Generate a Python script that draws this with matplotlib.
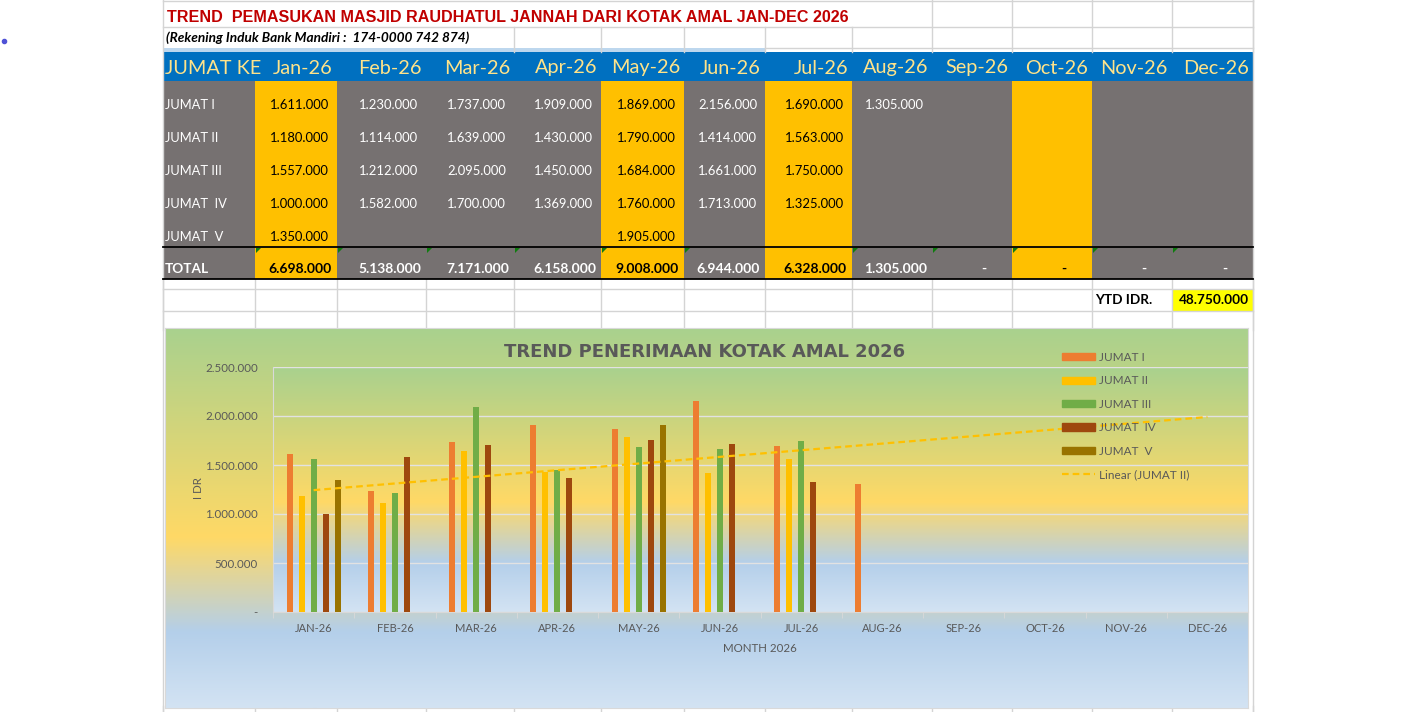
import numpy as np
import matplotlib
matplotlib.use("Agg")
import matplotlib.pyplot as plt
from matplotlib.patches import Rectangle, Polygon, Patch
from matplotlib.lines import Line2D
from matplotlib.colors import LinearSegmentedColormap

nan = np.nan

# ---- data -------------------------------------------------------------
months = ["Jan-26", "Feb-26", "Mar-26", "Apr-26", "May-26", "Jun-26",
          "Jul-26", "Aug-26", "Sep-26", "Oct-26", "Nov-26", "Dec-26"]
axis_months = ["JAN-26", "FEB-26", "MAR-26", "APR-26", "MAY-26", "JUN-26",
               "JUL-26", "AUG-26", "SEP-26", "OCT-26", "NOV-26", "DEC-26"]
row_labels = ["JUMAT I", "JUMAT II", "JUMAT III", "JUMAT  IV", "JUMAT  V"]

jumat_1 = [1611000, 1230000, 1737000, 1909000, 1869000, 2156000, 1690000, 1305000, nan, nan, nan, nan]
jumat_2 = [1180000, 1114000, 1639000, 1430000, 1790000, 1414000, 1563000, nan, nan, nan, nan, nan]
jumat_3 = [1557000, 1212000, 2095000, 1450000, 1684000, 1661000, 1750000, nan, nan, nan, nan, nan]
jumat_4 = [1000000, 1582000, 1700000, 1369000, 1760000, 1713000, 1325000, nan, nan, nan, nan, nan]
jumat_5 = [1350000, nan, nan, nan, 1905000, nan, nan, nan, nan, nan, nan, nan]

series = [jumat_1, jumat_2, jumat_3, jumat_4, jumat_5]
series_colors = ["#ED7D31", "#FFC000", "#70AD47", "#9E480E", "#997300"]
highlight_months = [0, 4, 6, 9]

# ---- layout helpers ---------------------------------------------------
W, H = 1416, 712
col_edges = [163, 255, 337, 426, 514, 601, 684, 765, 852, 932, 1012, 1092, 1172, 1253]
row_centers = [105, 138, 171, 204, 237]
FONT = "Lato"
GRID = "#D4D4D4"
GREY_CELL = "#767171"
YELLOW_CELL = "#FFC000"


def fmt(v):
    return f"{v:,.0f}".replace(",", ".")


def fx(px):
    return px / W


def fy(py):
    return 1 - py / H


fig = plt.figure(figsize=(W / 100, H / 100), dpi=100)
fig.patch.set_facecolor("white")

# ---- spreadsheet part -------------------------------------------------
sh = fig.add_axes([0, 0, 1, 1], zorder=0)
sh.set_xlim(0, W)
sh.set_ylim(H, 0)
sh.axis("off")

# grid lines
sh.plot([163, 163], [0, H], color=GRID, lw=1)
sh.plot([1253, 1253], [0, H], color=GRID, lw=1)
sh.plot([163, 1253], [0.5, 0.5], color=GRID, lw=1)
sh.plot([163, 1253], [27, 27], color=GRID, lw=1)
sh.plot([765, 1253], [48, 48], color=GRID, lw=1)
for xe in col_edges[9:]:
    sh.plot([xe, xe], [0, 52], color=GRID, lw=1)
for xe in col_edges[4:9]:
    sh.plot([xe, xe], [27, 52], color=GRID, lw=1)
for ye in [289, 311]:
    sh.plot([163, 1253], [ye, ye], color=GRID, lw=1)
for xe in col_edges:
    sh.plot([xe, xe], [279, 330], color=GRID, lw=1)
    sh.plot([xe, xe], [706, H], color=GRID, lw=1)

sh.plot([4], [41], "o", color="#4F52D6", ms=3)

sh.text(167, 17, "TREND  PEMASUKAN MASJID RAUDHATUL JANNAH DARI KOTAK AMAL JAN-DEC 2026",
        family=["Liberation Sans Narrow", "Liberation Sans"], weight="bold",
        fontsize=11.6, color="#C00000", va="center", ha="left")
sh.text(166, 38, "(Rekening Induk Bank Mandiri :  174-0000 742 874)",
        family=FONT, weight="bold", style="italic", fontsize=9.8, color="black",
        va="center", ha="left")

# header
sh.add_patch(Rectangle((163, 48), 765 - 163, 4, color="#BDD7EE", lw=0))
sh.add_patch(Rectangle((163, 52), 1253 - 163, 29, color="#0070C0", lw=0))
sh.text(165, 68, "JUMAT KE", family=FONT, fontsize=14.3, color="#FFE38A", va="center", ha="left")
for i, m in enumerate(months):
    sh.text(col_edges[i + 2] - 4, 68, m, family=FONT, fontsize=14.3, color="#FFE38A",
            va="center", ha="right")

# body
sh.add_patch(Rectangle((163, 81), 1253 - 163, 279 - 81, color=GREY_CELL, lw=0))
for i in highlight_months:
    sh.add_patch(Rectangle((col_edges[i + 1], 81), col_edges[i + 2] - col_edges[i + 1], 279 - 81,
                           color=YELLOW_CELL, lw=0))

for r, lab in enumerate(row_labels):
    sh.text(165, row_centers[r], lab, family=FONT, fontsize=9.3, color="white", va="center")
    for i in range(12):
        v = series[r][i]
        if np.isnan(v):
            continue
        c = "black" if i in highlight_months else "white"
        sh.text(col_edges[i + 2] - 8, row_centers[r], fmt(v), family=FONT, fontsize=9.4,
                color=c, va="center", ha="right")

totals = np.nansum(np.array(series, dtype=float), axis=0)
sh.text(165, 269, "TOTAL", family=FONT, fontsize=9.8, weight="bold", color="white", va="center")
for i, t in enumerate(totals):
    c = "black" if i in highlight_months else "white"
    if t > 0:
        sh.text(col_edges[i + 2] - 5, 269, fmt(t), family=FONT, fontsize=10, weight="bold",
                color=c, va="center", ha="right")
    else:
        sh.text(col_edges[i + 2] - 26, 269, "-", family=FONT, fontsize=10, weight="bold",
                color=c, va="center", ha="right")
    if i != 6:
        x0 = col_edges[i + 1]
        sh.add_patch(Polygon([[x0 + 1, 248], [x0 + 6, 248], [x0 + 1, 253]], color="#107C10", lw=0))

sh.plot([163, 1253], [247, 247], color="black", lw=1.3)
sh.plot([163, 1253], [279, 279], color="black", lw=1.3)

# YTD
sh.add_patch(Rectangle((1172, 290), 81, 21, color="#FFFF00", lw=0))
sh.text(1095, 300, "YTD IDR.", family=FONT, fontsize=9.8, weight="bold", color="black", va="center")
sh.text(1249, 300, fmt(totals.sum()), family=FONT, fontsize=9.8, weight="bold",
        color="black", va="center", ha="right")

# ---- chart ------------------------------------------------------------
grad_cmap = LinearSegmentedColormap.from_list(
    "bg", [(0.0, "#A9D18E"), (0.55, "#FFD966"), (0.8, "#B4CFEA"), (1.0, "#D3E3F3")])
grad = np.linspace(0, 1, 256).reshape(-1, 1)

cx0, cx1, cy0, cy1 = 165, 1248, 328, 708
bg = fig.add_axes([fx(cx0), fy(cy1), fx(cx1 - cx0), (cy1 - cy0) / H], zorder=1)
bg.imshow(grad, cmap=grad_cmap, aspect="auto", extent=[0, 1, 0, 1])
bg.set_xticks([])
bg.set_yticks([])
for s in bg.spines.values():
    s.set_color("#D9D9D9")

px0, px1, py0, py1 = 273, 1248, 367, 612
ax = fig.add_axes([fx(px0), fy(py1), fx(px1 - px0), (py1 - py0) / H], zorder=2)
ax.imshow(grad, cmap=grad_cmap, aspect="auto", extent=[-0.5, 11.5, 0, 2.5e6], zorder=0)

x = np.arange(12)
bar_w = 0.074
offsets = [-0.295, -0.148, 0.0, 0.148, 0.295]
for s, vals in enumerate(series):
    ax.bar(x + offsets[s], vals, width=bar_w, color=series_colors[s], zorder=3)

# linear trend line fitted to JUMAT II, extended over the whole year
j2 = np.array(jumat_2, dtype=float)
mask = ~np.isnan(j2)
coef = np.polyfit(x[mask], j2[mask], 1)
ax.plot(x, np.polyval(coef, x), color="#FFC000", lw=1.6, ls="--", dashes=(3, 1.8), zorder=4)

ax.set_xlim(-0.5, 11.5)
ax.set_ylim(0, 2.5e6)
ax.set_yticks(np.arange(0, 2.5e6 + 1, 5e5))
ax.set_yticklabels(["-" if v == 0 else fmt(v) for v in np.arange(0, 2.5e6 + 1, 5e5)])
ax.grid(axis="y", color="#E2E2E2", lw=1, zorder=1)
ax.set_xticks(x)
ax.set_xticklabels(axis_months)
ax.set_xticks(np.arange(-0.5, 12, 1), minor=True)
ax.tick_params(axis="x", which="major", length=0, pad=8, labelsize=8, labelcolor="#595959")
ax.tick_params(axis="x", which="minor", length=4, color="#D9D9D9")
ax.tick_params(axis="y", length=0, pad=11, labelsize=8.3, labelcolor="#595959")
for t in ax.get_xticklabels() + ax.get_yticklabels():
    t.set_family(FONT)
for side in ["top", "right"]:
    ax.spines[side].set_visible(False)
ax.spines["bottom"].set_color("#D9D9D9")
ax.spines["left"].set_color("#D9D9D9")

ax.set_ylabel("I DR", family=FONT, fontsize=8.3, color="#595959")
ax.yaxis.set_label_coords((204 - px0) / (px1 - px0), (py1 - 488) / (py1 - py0))
ax.set_xlabel("MONTH 2026", family=FONT, fontsize=8.3, color="#595959")
ax.xaxis.set_label_coords((760 - px0) / (px1 - px0), (py1 - 643) / (py1 - py0))

fig.text(fx(705), fy(352), "TREND PENERIMAAN KOTAK AMAL 2026", family="DejaVu Sans",
         weight="bold", fontsize=13, color="#595959", ha="center", va="center", zorder=5)

handles = [Patch(color=c) for c in series_colors]
handles.append(Line2D([], [], color="#FFC000", lw=1.6, ls="--", dashes=(3, 1.8)))
labels = row_labels + ["Linear (JUMAT II)"]
leg = ax.legend(handles, labels, loc="upper left", bbox_to_anchor=(fx(1062), fy(352)),
                bbox_transform=fig.transFigure, frameon=False, borderpad=0, borderaxespad=0,
                handlelength=2.8, handleheight=0.55, handletextpad=0.35, labelspacing=1.05,
                prop={"family": FONT, "size": 8.5})
for t in leg.get_texts():
    t.set_color("#595959")

fig.savefig("out.png", dpi=100)
